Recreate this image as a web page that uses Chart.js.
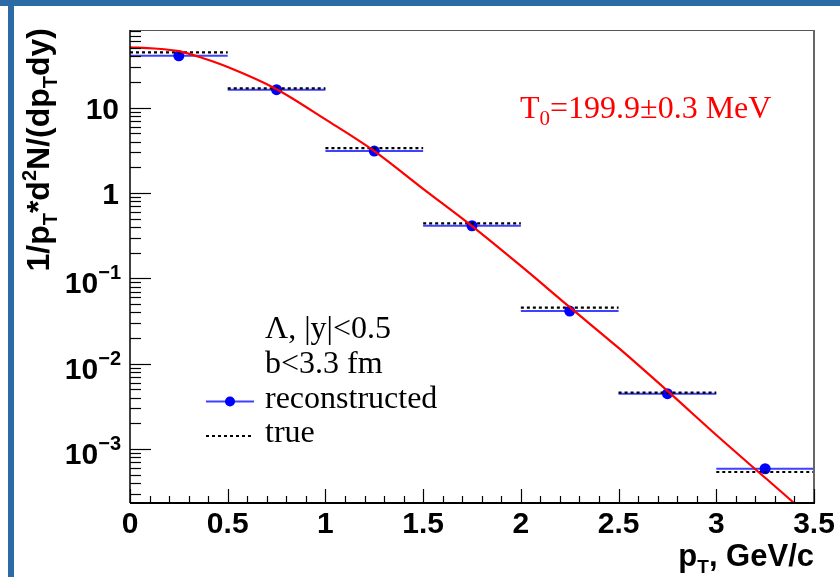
<!DOCTYPE html>
<html>
<head>
<meta charset="utf-8">
<script src="https://cdn.jsdelivr.net/npm/chart.js@4/dist/chart.umd.min.js"></script>
<style>
  html, body { margin: 0; padding: 0; background: #fff; }
  #wrap { position: relative; width: 840px; height: 577px; overflow: hidden; }
  #spectrum { position: absolute; left: 0; top: 0; }
  #topbar { position: absolute; left: 0; top: 0; width: 840px; height: 6px; background: #2c6ca4; }
  #sidebar { position: absolute; left: 8px; top: 0; width: 6px; height: 577px; background: #2c6ca4; }
</style>
</head>
<body>
<div id="wrap">
  <canvas id="spectrum" width="840" height="577"></canvas>
  <div id="topbar"></div>
  <div id="sidebar"></div>
</div>
<script>
// pT bins (GeV/c) and yields per bin
const binEdges = [0, 0.5, 1, 1.5, 2, 2.5, 3, 3.5];
const binCenters = [0.25, 0.75, 1.25, 1.75, 2.25, 2.75, 3.25];
const recoValues = [40.6, 16.3, 3.11, 0.414, 0.0414, 0.00445, 0.000587];
const trueValues = [44.6, 16.9, 3.37, 0.441, 0.0453, 0.00457, 0.000538];

// thermal fit curve
const fitX = [0, 0.125, 0.25, 0.375, 0.5, 0.75, 1.0, 1.25, 1.5, 1.75, 2.0, 2.25, 2.5, 2.75, 3.0, 3.25, 3.4, 3.5];
const fitY = [51, 49.5, 46, 38, 30, 16.5, 7.3, 3.1, 1.12, 0.41, 0.14, 0.046, 0.0153, 0.0048, 0.00146, 0.00046, 0.00023, 0.00014];

// axis labels
const xTickValues = [0, 0.5, 1, 1.5, 2, 2.5, 3, 3.5];
const xTickLabels = ['0', '0.5', '1', '1.5', '2', '2.5', '3', '3.5'];
const yTickValues = [0.001, 0.01, 0.1, 1, 10];
const yTickBase = ['10', '10', '10', '1', '10'];
const yTickExp = ['\u22123', '\u22122', '\u22121', '', ''];

const X_MIN = 0, X_MAX = 3.5;
const Y_MIN = 2.33e-4, Y_MAX = 81.5;

const SANS = "'Liberation Sans', Arial, Helvetica, sans-serif";
const SERIF = "'Liberation Serif', 'Times New Roman', serif";

// horizontal step per bin, with a gap between bins
function binSegments(vals) {
    const pts = [];
    vals.forEach((v, i) => {
        pts.push({ x: binEdges[i], y: v }, { x: binEdges[i + 1], y: v }, { x: binEdges[i + 1], y: null });
    });
    return pts;
}

// draws a run of [text, fontSize, baselineShift] pieces starting at x
function drawPieces(ctx, pieces, x, y, family, measureOnly) {
    let cx = x;
    pieces.forEach(([txt, size, dy]) => {
        ctx.font = 'bold ' + size + 'px ' + family;
        if (!measureOnly) ctx.fillText(txt, cx, y + dy);
        cx += ctx.measureText(txt).width;
    });
    return cx - x;
}

const frameAndText = {
    id: 'frameAndText',
    afterDraw(chart) {
        const ctx = chart.ctx;
        const area = chart.chartArea;
        const xs = chart.scales.x;
        const ys = chart.scales.y;
        ctx.save();

        // frame: grey top/right, black axes
        ctx.strokeStyle = '#555';
        ctx.lineWidth = 1;
        ctx.beginPath();
        ctx.moveTo(area.left, area.top + 0.5);
        ctx.lineTo(area.right, area.top + 0.5);
        ctx.stroke();
        ctx.lineWidth = 2;
        ctx.strokeStyle = '#666';
        ctx.beginPath();
        ctx.moveTo(area.right, area.top);
        ctx.lineTo(area.right, area.bottom);
        ctx.stroke();

        ctx.strokeStyle = '#000';
        ctx.lineWidth = 2;
        ctx.beginPath();
        ctx.moveTo(area.left, area.bottom);
        ctx.lineTo(area.right + 1, area.bottom);
        ctx.stroke();
        ctx.lineWidth = 1.5;
        ctx.beginPath();
        ctx.moveTo(area.left, area.top);
        ctx.lineTo(area.left, area.bottom);
        ctx.stroke();

        // x ticks, inside the frame
        ctx.lineWidth = 1.2;
        for (let i = 0; i <= 35; i++) {
            const px = Math.round(xs.getPixelForValue(i / 10)) + 0.5;
            const len = i % 5 === 0 ? 14 : 7;
            ctx.beginPath();
            ctx.moveTo(px, area.bottom);
            ctx.lineTo(px, area.bottom - len);
            ctx.stroke();
        }
        // y ticks, log decades
        for (let e = -4; e <= 1; e++) {
            for (let m = 1; m <= 9; m++) {
                const v = m * Math.pow(10, e);
                if (v < Y_MIN || v > Y_MAX) continue;
                const py = Math.round(ys.getPixelForValue(v)) + 0.5;
                const len = m === 1 ? 21 : 11;
                ctx.beginPath();
                ctx.moveTo(area.left, py);
                ctx.lineTo(area.left + len, py);
                ctx.stroke();
            }
        }

        // tick labels
        ctx.fillStyle = '#000';
        ctx.textBaseline = 'alphabetic';
        ctx.font = 'bold 30px ' + SANS;
        ctx.textAlign = 'center';
        xTickValues.forEach((v, i) => {
            ctx.fillText(xTickLabels[i], xs.getPixelForValue(v), 533);
        });
        yTickValues.forEach((v, i) => {
            const py = ys.getPixelForValue(v);
            ctx.textAlign = 'right';
            if (yTickExp[i] === '') {
                ctx.font = 'bold 30px ' + SANS;
                ctx.fillText(yTickBase[i], 119, py + 11);
            } else {
                ctx.font = 'bold 20px ' + SANS;
                const ew = ctx.measureText(yTickExp[i]).width;
                ctx.fillText(yTickExp[i], 121, py + 1);
                ctx.font = 'bold 30px ' + SANS;
                ctx.fillText(yTickBase[i], 121 - ew, py + 15);
            }
        });

        // axis titles
        ctx.textAlign = 'left';
        const xTitle = [['p', 31, 0], ['T', 19, 7], [', GeV/c', 31, 0]];
        const xw = drawPieces(ctx, xTitle, 0, 0, SANS, true);
        drawPieces(ctx, xTitle, area.right - xw, 566, SANS, false);

        const yTitle = [['1/p', 32, 0], ['T', 20, 8], ['*d', 32, 0], ['2', 20, -13],
                        ['N/(dp', 32, 0], ['T', 20, 8], ['dy)', 32, 0]];
        const yw = drawPieces(ctx, yTitle, 0, 0, SANS, true);
        ctx.save();
        ctx.translate(49, 28 + yw);
        ctx.rotate(-Math.PI / 2);
        drawPieces(ctx, yTitle, 0, 0, SANS, false);
        ctx.restore();

        // fit result
        ctx.fillStyle = '#ff0000';
        ctx.font = '32px ' + SERIF;
        ctx.fillText('T', 520, 118);
        let tx = 520 + ctx.measureText('T').width;
        ctx.font = '21px ' + SERIF;
        ctx.fillText('0', tx, 125);
        tx += ctx.measureText('0').width;
        ctx.font = '32px ' + SERIF;
        ctx.fillText('=199.9\u00b10.3 MeV', tx, 118);

        // legend
        ctx.fillStyle = '#000';
        ctx.font = '32px ' + SERIF;
        ctx.fillText('\u039b, |y|<0.5', 265, 338);
        ctx.fillText('b<3.3 fm', 265, 373);
        ctx.fillText('reconstructed', 265, 408);
        ctx.fillText('true', 265, 442);

        ctx.strokeStyle = '#4040ff';
        ctx.lineWidth = 2;
        ctx.beginPath();
        ctx.moveTo(206, 401.5);
        ctx.lineTo(254, 401.5);
        ctx.stroke();
        ctx.fillStyle = '#0000ff';
        ctx.beginPath();
        ctx.arc(230, 401.5, 5, 0, Math.PI * 2);
        ctx.fill();

        ctx.strokeStyle = '#000';
        ctx.setLineDash([3, 3]);
        ctx.beginPath();
        ctx.moveTo(206, 436);
        ctx.lineTo(251, 436);
        ctx.stroke();
        ctx.setLineDash([]);

        ctx.restore();
    }
};

new Chart(document.getElementById('spectrum'), {
    type: 'line',
    data: {
        datasets: [
            {
                label: 'fit',
                data: fitX.map((x, i) => ({ x, y: fitY[i] })),
                borderColor: '#ff0000',
                borderWidth: 2.2,
                pointRadius: 0,
                cubicInterpolationMode: 'monotone',
                fill: false
            },
            {
                label: 'true',
                data: binSegments(trueValues),
                borderColor: '#000',
                borderWidth: 2.2,
                borderDash: [3, 3],
                pointRadius: 0,
                spanGaps: false,
                tension: 0
            },
            {
                label: 'reconstructed markers',
                data: binCenters.map((x, i) => ({ x, y: recoValues[i] })),
                showLine: false,
                pointRadius: 5.5,
                pointBackgroundColor: '#0000ff',
                pointBorderWidth: 0,
                borderColor: '#0000ff'
            },
            {
                label: 'reconstructed',
                data: binSegments(recoValues),
                borderColor: '#4040ff',
                borderWidth: 2,
                pointRadius: 0,
                spanGaps: false,
                tension: 0
            }
        ]
    },
    options: {
        responsive: false,
        animation: false,
        events: [],
        layout: { padding: { left: 130, top: 30, right: 26, bottom: 74 } },
        plugins: { legend: { display: false }, tooltip: { enabled: false } },
        scales: {
            x: { type: 'linear', min: X_MIN, max: X_MAX, display: false },
            y: { type: 'logarithmic', min: Y_MIN, max: Y_MAX, display: false }
        }
    },
    plugins: [frameAndText]
});
</script>
</body>
</html>
